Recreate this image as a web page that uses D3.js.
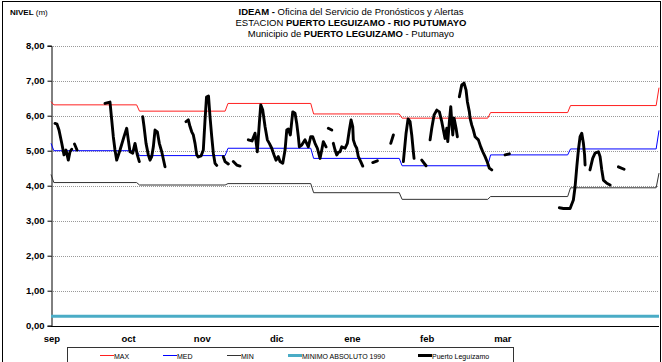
<!DOCTYPE html>
<html><head><meta charset="utf-8">
<script src="https://cdn.jsdelivr.net/npm/d3@7"></script>
<style>body{margin:0;background:#fff} svg{display:block;font-family:"Liberation Sans",Arial,sans-serif}</style>
</head><body><svg id="c" width="662" height="362"></svg>
<script>
// x values are days counted from 31 Aug
const monthNames = ["sep","oct","nov","dic","ene","feb","mar"];
const monthLabelDays = [0.35, 27.2, 53.0, 79.1, 105.6, 131.8, 158.3];
const yTicks = [0,1,2,3,4,5,6,7,8];
// month start days: ago, sep, oct, nov, dic, ene, feb, mar, abr
const monthStartDays = [0, 1, 31, 62, 92, 123, 154, 182, 213];
const maxValues = [6.40, 6.31, 6.13, 6.35, 6.05, 5.93, 6.09, 6.29, 6.80];
const medValues = [5.21, 5.00, 4.86, 5.07, 4.78, 4.57, 4.88, 5.05, 5.58];
const minValues = [4.32, 4.09, 4.02, 4.06, 3.80, 3.61, 3.69, 3.94, 4.36];
const minAbs1990 = 0.27;
const puertoLeguizamo = [
 [1.40,5.78],[2.10,5.76],[2.80,5.59],[3.75,5.22],[4.56,4.88],[5.26,5.02],[6.06,4.73],[6.66,4.97],[7.25,5.04], null,
 [8.23,5.19],[9.11,5.02], null,
 [18.92,6.35],[20.67,6.39],[21.27,5.88],[21.83,5.40],[22.42,5.02],[23.02,4.73],[24.18,5.02],[25.58,5.40],[26.52,5.64],[27.08,5.31],[27.68,4.97],[28.63,4.93],[29.43,5.21],[30.24,4.88],[30.94,4.69], null,
 [32.13,5.97],[32.59,5.69],[33.29,5.21],[34.09,4.88],[34.69,4.73],[35.28,4.83],[35.85,5.11],[36.44,5.59],[37.25,5.54],[37.95,5.21],[38.79,4.97],[39.94,4.54], null,
 [47.30,5.83],[48.11,5.88],[48.70,5.69],[49.30,5.54],[49.86,5.45],[50.46,5.21],[51.05,4.88],[51.61,4.82],[52.56,4.85],[53.36,5.02],[53.96,5.88],[54.48,6.53],[55.18,6.56],[55.71,5.97],[56.31,5.40],[56.87,4.93],[57.46,4.64],[58.06,4.58], null,
 [60.37,4.83],[60.97,4.69],[62.12,4.62], null,
 [63.87,4.69],[65.07,4.59],[66.22,4.56], null,
 [69.13,5.31],[70.43,5.28],[71.48,5.50],[72.28,4.97],[72.98,5.78],[73.48,6.31],[74.18,6.16],[74.98,5.69],[75.79,5.31],[76.49,5.21],[77.33,5.07],[78.14,4.88],[78.84,4.73],[79.64,4.83],[80.24,4.69],[81.19,4.64],[82.00,5.02],[82.59,5.59],[83.15,5.62],[83.85,5.45],[84.69,6.11],[85.49,6.07],[86.09,5.78],[86.65,5.40],[87.00,5.11],[87.84,5.16],[88.99,5.31],[90.15,5.11],[90.99,5.40],[91.69,5.40],[92.50,5.21],[93.31,5.07],[94.25,4.78],[94.85,5.02],[95.41,5.26],[96.36,5.11], null,
 [97.16,5.64],[98.35,5.59], null,
 [98.91,5.21],[99.51,5.02],[100.11,4.88],[100.74,4.96],[101.26,4.97],[101.86,5.11],[103.01,5.07],[103.82,5.21],[104.52,5.59],[105.12,5.88],[105.71,5.69],[105.92,5.31],[106.52,5.16],[107.11,5.07],[107.67,4.83],[108.51,4.69],[109.21,4.56], null,
 [112.72,4.66],[114.33,4.71], null,
 [119.03,5.21],[119.94,5.45], null,
 [123.44,4.69],[124.39,5.50],[125.09,5.91],[125.79,5.83],[126.38,5.45],[126.94,4.97],[127.19,4.78], null,
 [129.89,4.73],[131.39,4.57], null,
 [132.80,5.31],[133.39,5.64],[134.20,6.02],[135.14,6.16],[136.06,6.11],[136.90,5.83],[137.46,5.59],[138.05,5.35],[138.65,5.64],[139.00,5.26],[139.56,5.83],[140.05,6.26],[140.40,5.83],[140.75,5.45],[141.21,5.93],[141.91,5.64],[142.36,5.40], null,
 [143.06,6.54],[143.90,6.88],[144.71,6.93],[145.41,6.73],[145.87,6.40],[146.57,6.11],[146.81,5.93],[147.41,5.73],[147.97,5.59],[148.56,5.40],[149.72,5.31],[150.56,5.11],[151.26,4.97],[152.07,4.83],[152.87,4.67],[153.57,4.50],[154.41,4.45], null,
 [159.07,4.88],[160.58,4.91], null,
 [178.10,3.37],[179.51,3.35],[181.85,3.35],[183.00,3.59],[183.60,3.97],[184.20,4.54],[184.76,5.02],[185.35,5.40],[185.95,5.50],[186.52,5.21],[186.93,4.88],[187.11,4.59], null,
 [188.82,4.45],[189.77,4.78],[190.61,4.93],[191.78,4.97],[192.36,4.83],[192.96,4.45],[193.52,4.16],[194.72,4.07],[195.87,4.02], null,
 [198.78,4.54],[200.77,4.47]
];
const legendNames = ["MAX","MED","MIN","MINIMO ABSOLUTO 1990","Puerto Leguízamo"];

const svg = d3.select("#c");
const x = d3.scaleLinear().domain([0,213]).range([51,659]);
const y = d3.scaleLinear().domain([0,8]).range([325.7,45.7]);

// outer frame
svg.append("rect").attr("x",2.5).attr("y",1.5).attr("width",658).attr("height",380)
  .attr("fill","none").attr("stroke","#000").attr("stroke-width",1);

// grid
svg.append("g").selectAll("line").data(yTicks.filter(d=>d>0)).join("line")
  .attr("x1",x(0)).attr("x2",x(213)).attr("y1",d=>Math.round(y(d))+0.5).attr("y2",d=>Math.round(y(d))+0.5)
  .attr("stroke","#999").attr("stroke-dasharray","1,1");

// y axis
const ya = svg.append("g").attr("transform","translate(51.5,0)")
  .call(d3.axisLeft(y).tickValues(yTicks).tickSize(4).tickPadding(3)
    .tickFormat(d=>d.toFixed(2).replace(".",",")));
ya.select(".domain").attr("stroke","#000");
ya.selectAll("text").attr("font-size",9.5).attr("font-weight","bold").attr("font-family","Liberation Sans, Arial, sans-serif").attr("fill","#000");

// x axis line
svg.append("line").attr("x1",51).attr("x2",x(213)).attr("y1",326.5).attr("y2",326.5).attr("stroke","#000");
svg.append("g").selectAll("text").data(monthNames).join("text")
  .attr("x",(d,i)=>x(monthLabelDays[i])).attr("y",342).attr("text-anchor","middle")
  .attr("font-size",9.5).attr("font-weight","bold").text(d=>d);

// reference lines from monthly values
function monthlySeries(vals){
  const pts=[[monthStartDays[0],vals[0]]];
  for(let i=1;i<monthStartDays.length-1;i++){
    pts.push([monthStartDays[i],vals[i]]);
    pts.push([monthStartDays[i+1]-1,vals[i]]);
  }
  pts.push([monthStartDays[monthStartDays.length-1],vals[vals.length-1]]);
  return pts;
}
const line = d3.line().defined(d=>d).x(d=>x(d[0])).y(d=>y(d[1]));
svg.append("path").attr("d",line([[0,minAbs1990],[213,minAbs1990]])).attr("fill","none")
  .attr("stroke","#4aacc6").attr("stroke-width",3);
svg.append("path").attr("d",line(monthlySeries(minValues))).attr("fill","none").attr("stroke","#333").attr("stroke-width",1);
svg.append("path").attr("d",line(monthlySeries(medValues))).attr("fill","none").attr("stroke","#0000ff").attr("stroke-width",1);
svg.append("path").attr("d",line(monthlySeries(maxValues))).attr("fill","none").attr("stroke","#ff2020").attr("stroke-width",1);
svg.append("path").attr("d",line(puertoLeguizamo)).attr("fill","none").attr("stroke","#000")
  .attr("stroke-width",2.9).attr("stroke-linejoin","round").attr("stroke-linecap","round");

// titles
const t = svg.append("text").attr("x",10).attr("y",15).attr("font-size",8);
t.append("tspan").attr("font-weight","bold").text("NIVEL");
t.append("tspan").text(" (m)");
function titleLine(yy, parts){
  const tx = svg.append("text").attr("x",351).attr("y",yy).attr("text-anchor","middle").attr("font-size",9.5);
  parts.forEach(p=>tx.append("tspan").attr("font-weight",p[1]?"bold":"normal").text(p[0]));
}
titleLine(15,[["IDEAM -",1],[" Oficina del Servicio de Pronósticos y Alertas",0]]);
titleLine(26,[["ESTACION ",0],["PUERTO LEGUIZAMO -  RIO PUTUMAYO",1]]);
titleLine(37,[["Municipio de ",0],["PUERTO LEGUIZAMO",1],[" - Putumayo",0]]);

// legend
svg.append("rect").attr("x",67.5).attr("y",347.5).attr("width",446).attr("height",30)
  .attr("fill","#fff").attr("stroke","#333");
const legStyles = [["#ff2020",1],["#0000ff",1],["#333",1],["#4aacc6",3],["#000",3]];
const legX = [100,163,227,288,418];
legendNames.forEach((n,i)=>{
  svg.append("line").attr("x1",legX[i]).attr("x2",legX[i]+14).attr("y1",355.5).attr("y2",355.5)
    .attr("stroke",legStyles[i][0]).attr("stroke-width",legStyles[i][1]);
  svg.append("text").attr("x",legX[i]+14).attr("y",358.5).attr("font-size",7).text(n);
});
</script></body></html>
